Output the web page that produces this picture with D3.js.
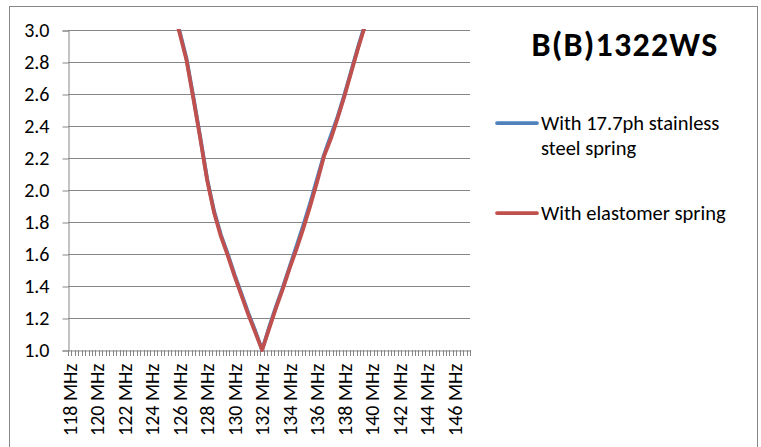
<!DOCTYPE html>
<html>
<head>
<meta charset="utf-8">
<script src="https://cdn.jsdelivr.net/npm/d3@7"></script>
<style>
body { margin: 0; background: #fff; }
text { font-family: Carlito, Calibri, Lato, sans-serif; fill: #000; }
</style>
</head>
<body>
<script>
// category axis: 118 .. 147 MHz in 0.25 MHz steps, labelled every 2 MHz
var categories = d3.range(118, 147.001, 0.25);
var labelCats = [118, 120, 122, 124, 126, 128, 130, 132, 134, 136, 138, 140, 142, 144, 146];
var tickLabels = ['118 MHz', '120 MHz', '122 MHz', '124 MHz', '126 MHz', '128 MHz', '130 MHz',
  '132 MHz', '134 MHz', '136 MHz', '138 MHz', '140 MHz', '142 MHz', '144 MHz', '146 MHz'];
var yTicks = [1.0, 1.2, 1.4, 1.6, 1.8, 2.0, 2.2, 2.4, 2.6, 2.8, 3.0];

var freqs = [125.5, 126, 126.5, 127, 127.5, 128, 128.5, 129, 129.5, 130, 130.5, 131, 131.5, 132,
  132.5, 133, 133.5, 134, 134.5, 135, 135.5, 136, 136.5, 137, 137.5, 138, 138.5, 139, 139.5, 140];
var steelVswr = [3.15, 2.99, 2.82, 2.58, 2.33, 2.07, 1.87, 1.72, 1.60, 1.47, 1.35, 1.23, 1.12, 1.00,
  1.14, 1.27, 1.39, 1.52, 1.65, 1.78, 1.92, 2.07, 2.22, 2.34, 2.46, 2.60, 2.75, 2.90, 3.04, 3.19];
var elastVswr = [3.14, 2.98, 2.81, 2.57, 2.32, 2.06, 1.86, 1.71, 1.59, 1.46, 1.34, 1.22, 1.11, 1.00,
  1.13, 1.26, 1.38, 1.51, 1.63, 1.76, 1.90, 2.05, 2.21, 2.32, 2.45, 2.59, 2.74, 2.89, 3.03, 3.18];

var seriesNames = ['With 17.7ph stainless steel spring', 'With elastomer spring'];
var seriesColors = ['#4f81bd', '#c0504d'];

var width = 761;
var height = 447;
var plot = { left: 68, right: 470, top: 30, bottom: 350 };
var gridColor = '#878787';

var svg = d3.select('body').append('svg')
  .attr('width', width)
  .attr('height', height);

// chart frame
svg.append('rect')
  .attr('x', 9.5)
  .attr('y', 6.5)
  .attr('width', 748)
  .attr('height', 446)
  .attr('fill', '#fff')
  .attr('stroke', gridColor);

var x = d3.scaleBand()
  .domain(categories)
  .range([plot.left, plot.right]);

var y = d3.scaleLinear()
  .domain([1, 3])
  .range([plot.bottom, plot.top]);

function cx(f) {
  return x(f) + x.bandwidth() / 2;
}

// horizontal gridlines
svg.append('g').selectAll('line').data(yTicks.slice(1)).enter().append('line')
  .attr('x1', plot.left)
  .attr('x2', plot.right)
  .attr('y1', function(d) { return Math.round(y(d)) + 0.5; })
  .attr('y2', function(d) { return Math.round(y(d)) + 0.5; })
  .attr('stroke', gridColor);

// y axis
var yAxis = svg.append('g')
  .attr('transform', 'translate(' + (plot.left + 0.5) + ',0.5)')
  .call(d3.axisLeft(y).tickValues(yTicks).tickFormat(d3.format('.1f')).tickSize(6).tickPadding(13));
yAxis.select('.domain').attr('stroke', gridColor);
yAxis.selectAll('.tick line').attr('stroke', gridColor);
yAxis.selectAll('text')
  .attr('font-family', null)
  .style('font-size', '20px');

// x axis: one tick mark per category boundary
var boundaries = categories.map(function(c) { return x(c); }).concat([plot.right]);
svg.append('g').selectAll('line').data(boundaries).enter().append('line')
  .attr('x1', function(d) { return Math.round(d) + 0.5; })
  .attr('x2', function(d) { return Math.round(d) + 0.5; })
  .attr('y1', plot.bottom)
  .attr('y2', plot.bottom + 6)
  .attr('stroke', gridColor);

var xAxis = svg.append('g')
  .attr('transform', 'translate(0,' + (plot.bottom + 0.5) + ')')
  .call(d3.axisBottom(x).tickValues(labelCats).tickSize(0)
    .tickFormat(function(d, i) { return tickLabels[i]; }));
xAxis.select('.domain').attr('stroke', gridColor);
xAxis.selectAll('text')
  .attr('font-family', null)
  .style('font-size', '20px')
  .attr('transform', 'rotate(-90)')
  .attr('x', -13)
  .attr('y', 0)
  .attr('dy', '0.36em')
  .style('text-anchor', 'end');

// lines, clipped to the plot area like the original
svg.append('clipPath').attr('id', 'plot-clip')
  .append('rect')
  .attr('x', plot.left)
  .attr('y', plot.top - 1)
  .attr('width', plot.right - plot.left)
  .attr('height', plot.bottom - plot.top + 4);

var line = d3.line()
  .x(function(d) { return cx(d[0]); })
  .y(function(d) { return y(d[1]); });

var lineRoot = svg.append('g').attr('clip-path', 'url(#plot-clip)');
[steelVswr, elastVswr].forEach(function(values, i) {
  lineRoot.append('path')
    .datum(freqs.map(function(f, j) { return [f, values[j]]; }))
    .attr('d', line)
    .attr('fill', 'none')
    .attr('stroke', seriesColors[i])
    .attr('stroke-width', 3.75)
    .attr('stroke-linejoin', 'round');
});

// title
svg.append('text')
  .attr('x', 625)
  .attr('y', 56)
  .attr('text-anchor', 'middle')
  .style('font-size', '34px')
  .style('font-weight', 'bold')
  .style('letter-spacing', '1.2px')
  .text('B(B)1322WS');

// legend
var legendItems = [
  { color: seriesColors[0], y: 123, lines: ['With 17.7ph stainless', 'steel spring'] },
  { color: seriesColors[1], y: 213, lines: ['With elastomer spring'] }
];
var legend = svg.append('g');
legendItems.forEach(function(item) {
  legend.append('line')
    .attr('x1', 497)
    .attr('x2', 537)
    .attr('y1', item.y)
    .attr('y2', item.y)
    .attr('stroke', item.color)
    .attr('stroke-width', 3.75)
    .attr('stroke-linecap', 'round');
  var t = legend.append('text')
    .attr('x', 541)
    .attr('y', item.y + 7)
    .style('font-size', '20.5px');
  item.lines.forEach(function(s, k) {
    t.append('tspan')
      .attr('x', 541)
      .attr('dy', k === 0 ? 0 : 25)
      .text(s);
  });
});
</script>
</body>
</html>
